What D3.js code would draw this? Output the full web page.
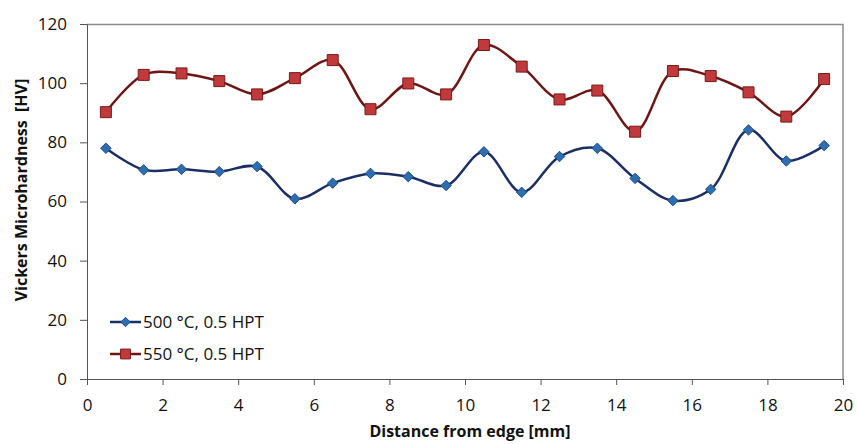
<!DOCTYPE html>
<html>
<head>
<meta charset="utf-8">
<script src="https://cdn.jsdelivr.net/npm/d3@7"></script>
<style>
  body { margin: 0; background: #fff; }
  svg text { font-family: "Open Sans", "Noto Sans", sans-serif; }
</style>
</head>
<body>
<div class="chart"></div>
<script>
// Data
const distance = [0.5, 1.5, 2.5, 3.5, 4.5, 5.5, 6.5, 7.5, 8.5, 9.5,
                  10.5, 11.5, 12.5, 13.5, 14.5, 15.5, 16.5, 17.5, 18.5, 19.5];
const hv500 = [78, 70.7, 70.9, 70.1, 71.8, 60.9, 66.2, 69.5, 68.4, 65.4,
               76.8, 63.1, 75.2, 78, 67.8, 60.3, 64.1, 84.2, 73.7, 78.9];
const hv550 = [90.2, 102.8, 103.3, 100.7, 96.2, 101.7, 107.8, 91.2, 99.9, 96.2,
               112.9, 105.6, 94.5, 97.5, 83.6, 104.1, 102.4, 96.9, 88.7, 101.4];
const seriesNames = ['500 °C, 0.5 HPT', '550 °C, 0.5 HPT'];
const xTicks = [0, 2, 4, 6, 8, 10, 12, 14, 16, 18, 20];
const yTicks = [0, 20, 40, 60, 80, 100, 120];

const outerWidth = 858, outerHeight = 444;
const margin = {top: 24, right: 15, bottom: 65, left: 87};
const width = outerWidth - margin.left - margin.right;
const height = outerHeight - margin.top - margin.bottom;

const svg = d3.select('.chart').append('svg')
    .attr('width', outerWidth)
    .attr('height', outerHeight)
  .append('g')
    .attr('transform', 'translate(' + margin.left + ',' + margin.top + ')');

const x = d3.scaleLinear().domain([0, 20]).range([0, width]);
const y = d3.scaleLinear().domain([0, 120]).range([height, 0]);

// plot frame (top and right)
svg.append('path')
    .attr('d', `M0,0.5H${width}V${height}`)
    .attr('fill', 'none')
    .attr('stroke', '#8c8c8c')
    .attr('stroke-width', 1.5);

// x axis
const xAxis = svg.append('g')
    .attr('transform', 'translate(0,' + height + ')')
    .call(d3.axisBottom(x).tickValues(xTicks).tickSize(6).tickPadding(14));
xAxis.select('.domain').attr('stroke', '#555');
xAxis.selectAll('.tick line').attr('stroke', '#555');
xAxis.selectAll('text').attr('font-size', 17).attr('fill', '#111')
    .style('font-family', '"Open Sans", sans-serif');

// y axis
const yAxis = svg.append('g')
    .call(d3.axisLeft(y).tickValues(yTicks).tickSize(7).tickPadding(13));
yAxis.select('.domain').attr('stroke', '#555');
yAxis.selectAll('.tick line').attr('stroke', '#555');
yAxis.selectAll('text').attr('font-size', 17).attr('fill', '#111')
    .style('font-family', '"Open Sans", sans-serif');

// axis titles
svg.append('text')
    .attr('x', 470 - margin.left)
    .attr('y', height + 58)
    .attr('text-anchor', 'middle')
    .attr('font-size', 16)
    .attr('font-weight', 'bold')
    .attr('fill', '#111')
    .text('Distance from edge [mm]');

svg.append('text')
    .attr('transform', `translate(${-margin.left + 27},${190 - margin.top}) rotate(-90)`)
    .attr('text-anchor', 'middle')
    .attr('font-size', 16)
    .attr('font-weight', 'bold')
    .attr('fill', '#111')
    .style('white-space', 'pre')
    .text('Vickers Microhardness  [HV]');

const line = d3.line()
    .curve(d3.curveCatmullRom.alpha(0.5))
    .x(d => x(d[0]))
    .y(d => y(d[1]));

const series = [
  {name: seriesNames[0], values: hv500, line: '#1b2f66', fill: '#2e6db0', stroke: '#1d4f8a', shape: d3.symbolDiamond2, size: 70},
  {name: seriesNames[1], values: hv550, line: '#6e1515', fill: '#c0393b', stroke: '#7a1a1a', shape: d3.symbolSquare, size: 121},
];

series.forEach(s => {
  const pts = distance.map((d, i) => [d, s.values[i]]);
  svg.append('path')
      .datum(pts)
      .attr('fill', 'none')
      .attr('stroke', s.line)
      .attr('stroke-width', 2.5)
      .attr('d', line);
  svg.selectAll(null)
      .data(pts)
      .enter().append('path')
      .attr('transform', d => `translate(${x(d[0])},${y(d[1])})`)
      .attr('d', d3.symbol().type(s.shape).size(s.size))
      .attr('fill', s.fill)
      .attr('stroke', s.stroke)
      .attr('stroke-width', 1);
});

// legend
const legend = svg.append('g').attr('transform', `translate(${110 - margin.left},${322 - margin.top})`);
series.forEach((s, i) => {
  const g = legend.append('g').attr('transform', `translate(0,${i * 32})`);
  g.append('line').attr('x1', 0).attr('x2', 31).attr('y1', 0).attr('y2', 0)
      .attr('stroke', s.line).attr('stroke-width', 2.5);
  g.append('path').attr('transform', 'translate(15.5,0)')
      .attr('d', d3.symbol().type(s.shape).size(s.size * 0.8))
      .attr('fill', s.fill).attr('stroke', s.stroke);
  g.append('text').attr('x', 33).attr('y', 6)
      .attr('font-size', 17).attr('fill', '#111').text(s.name);
});
</script>
</body>
</html>
